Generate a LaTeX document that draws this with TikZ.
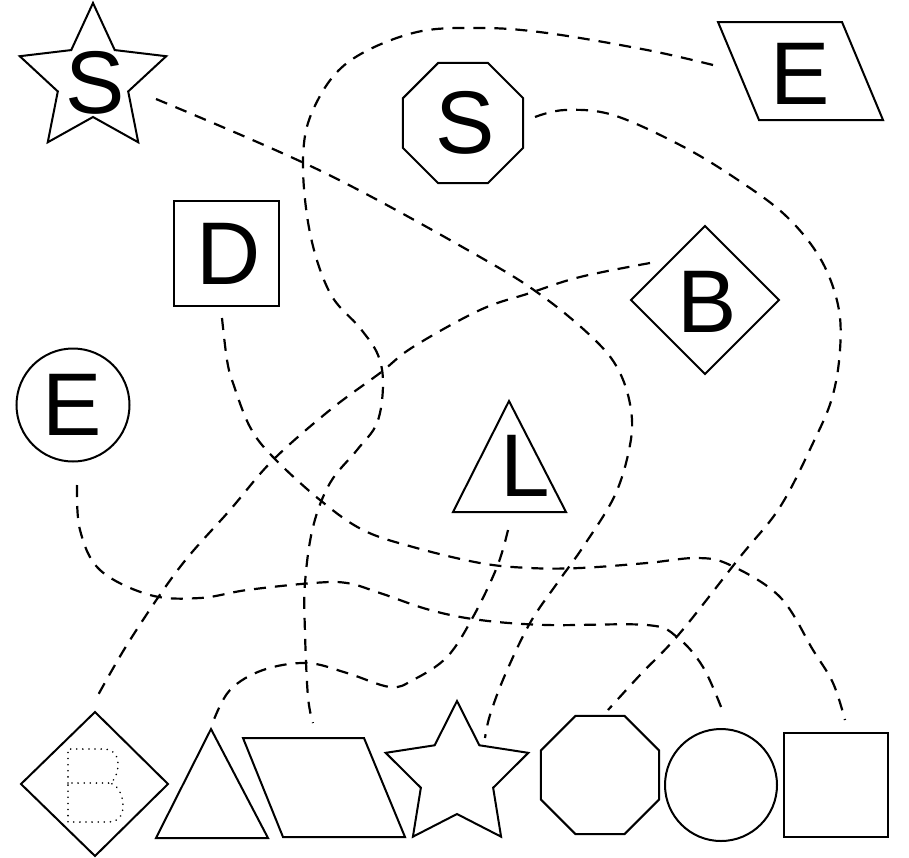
\documentclass[tikz,border=0pt]{standalone}
\usepackage{fontspec}
\setmainfont{Liberation Sans}
\begin{document}
\begin{tikzpicture}[x=1pt,y=-1pt,
  shp/.style={draw=black,line width=2pt,line join=miter},
  conn/.style={draw=black,line width=2.2pt,dash pattern=on 12pt off 9pt},
  letter/.style={inner sep=0pt,font=\fontsize{89}{89}\selectfont},
  dotB/.style={draw=black,line width=1.7pt,dash pattern=on 0.1pt off 6pt,line cap=round},
]
\useasboundingbox[fill=white] (0,0) rectangle (909,857);

% ---------- top shapes ----------
% star S
\draw[shp] (93,80) +(-90:77) \foreach \k in {0,...,4}{ -- +(-90+72*\k:77) -- +(-54+72*\k:37)} -- cycle;
\node[letter] (s1) at (95,83) {S};
% octagon S
\draw[shp] (463,123) +(22.5:65) \foreach \k in {1,...,7}{ -- +(22.5+45*\k:65)} -- cycle;
\node[letter] (s2) at (465,123) {S};
% parallelogram E
\draw[shp] (718,22) -- (842,22) -- (883,120) -- (759,120) -- cycle;
\node[letter] (e1) at (800,74) {E};
% square D
\draw[shp] (174,201) rectangle (279,306);
\node[letter] (d1) at (229,254) {D};
% diamond B
\draw[shp] (705,226) -- (779,300) -- (705,374) -- (631,300) -- cycle;
\node[letter] (b1) at (707,302) {B};
% circle E
\draw[shp] (73,405) circle[radius=56.5];
\node[letter] (e2) at (72,405) {E};
% triangle L
\draw[shp] (509,401) -- (566,512) -- (453,512) -- cycle;
\node[letter] (l1) at (525,466) {L};

% ---------- bottom shapes ----------
\draw[shp] (95,712) -- (168,784) -- (95,856) -- (21,784) -- cycle;
\draw[dotB] (68,783) -- (68,749) -- (103,749) .. controls (113,749) and (118,755) .. (118,764)
  .. controls (118,774) and (114,781) .. (110,783) -- (68,783) -- (68,822) -- (108,822)
  .. controls (119,822) and (123,815) .. (123,806) .. controls (123,795) and (118,785) .. (110,783);
\draw[shp] (211,729) -- (268,838) -- (156,838) -- cycle;
\draw[shp] (243,738) -- (364,738) -- (405,837) -- (283,837) -- cycle;
\draw[shp] (457,776) +(-90:75) \foreach \k in {0,...,4}{ -- +(-90+72*\k:75) -- +(-54+72*\k:38)} -- cycle;
\draw[shp] (600,775) +(22.5:64) \foreach \k in {1,...,7}{ -- +(22.5+45*\k:64)} -- cycle;
\draw[shp] (721,785) circle[radius=56];
\draw[shp] (784,733) rectangle (888,837);

% ---------- connector ends ----------
\coordinate (a0) at (156,99);  \coordinate (a9) at (485,738);
\coordinate (b0) at (535,117); \coordinate (b9) at (608,710);
\coordinate (c0) at (713,65);  \coordinate (c9) at (313,723);
\coordinate (d0) at (222,318); \coordinate (d9) at (845,720);
\coordinate (e0) at (77,485);  \coordinate (e9) at (723,712);
\coordinate (f0) at (650,263); \coordinate (f9) at (97,697);
\coordinate (g0) at (508,530); \coordinate (g9) at (213,722);

% ---------- connectors ----------
\draw[conn] plot[smooth,tension=0.6] coordinates {(a0) (323,172) (480,257) (545,298) (597,342) (620,373) (631,410) (630,445) (615,495) (583,547) (558,582) (530,623) (505,675) (490,715) (a9)};
\draw[conn] plot[smooth,tension=0.6] coordinates {(b0) (565,110) (613,115) (680,145) (735,178) (785,215) (820,258) (838,305) (840,350) (832,398) (813,443) (780,507) (740,557) (680,633) (640,675) (b9)};
\draw[conn] plot[smooth,tension=0.6] coordinates {(c0) (647,50) (547,33) (480,28) (413,33) (347,63) (313,110) (303,160) (310,233) (330,293) (360,328) (378,355) (383,385) (377,423) (357,450) (330,483) (313,527) (305,583) (305,633) (308,697) (c9)};
\draw[conn] plot[smooth,tension=0.6] coordinates {(d0) (227,360) (233,383) (250,427) (273,457) (320,500) (363,530) (413,547) (480,563) (530,568) (580,568) (647,563) (697,558) (730,565) (780,597) (813,650) (833,683) (d9)};
\draw[conn] plot[smooth,tension=0.6] coordinates {(e0) (80,530) (100,570) (150,595) (200,598) (247,590) (313,583) (347,583) (380,593) (430,610) (480,620) (547,625) (647,625) (677,637) (703,667) (e9)};
\draw[conn] plot[smooth,tension=0.6] coordinates {(f0) (580,277) (530,293) (480,310) (413,347) (380,373) (330,410) (273,460) (230,510) (180,567) (130,640) (f9)};
\draw[conn] plot[smooth,tension=0.6] coordinates {(g0) (497,567) (473,617) (447,657) (413,680) (390,687) (347,673) (307,663) (263,670) (230,690) (g9)};
\end{tikzpicture}
\end{document}
